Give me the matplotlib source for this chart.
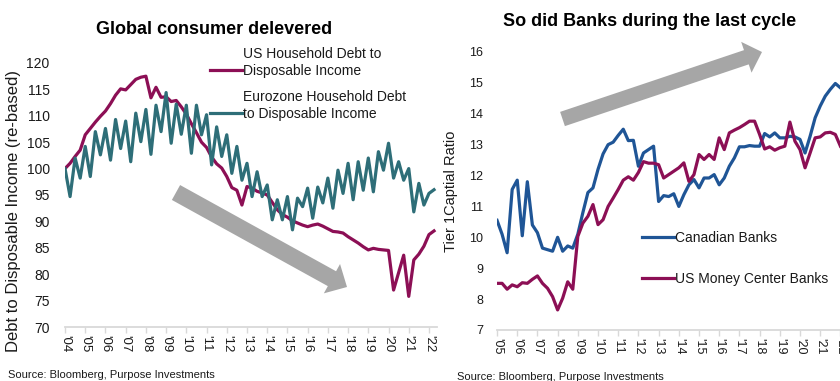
import matplotlib
matplotlib.use('agg')
import matplotlib.pyplot as plt
from matplotlib.patches import FancyArrow
from matplotlib.lines import Line2D

plt.rcParams['font.family'] = ['Liberation Sans', 'DejaVu Sans']

# ---- data: left chart (quarterly, re-based to 100 at 2004Q1) ----
left_start = 2004.0
us_household = [
    100.0, 101.0, 102.3, 103.5, 106.4, 107.6, 108.8, 109.9,
    110.9, 112.3, 113.9, 115.1, 114.9, 115.9, 116.9, 117.3,
    117.5, 113.4, 115.4, 113.5, 113.6, 112.7, 112.9, 111.7,
    110.3, 108.5, 106.8, 105.0, 104.0, 102.2, 100.9, 100.1,
    98.5, 96.4, 95.9, 93.1, 96.6, 96.3, 95.7, 95.4,
    95.0, 93.6, 92.2, 91.3, 90.8, 90.1, 89.7, 89.3,
    89.0, 89.3, 89.5, 89.1, 88.6, 88.1, 88.0, 87.8,
    87.1, 86.5, 85.9, 85.2, 84.6, 84.9, 84.7, 84.6,
    84.5, 77.0, 80.3, 83.6, 75.8, 82.7, 83.8, 85.3,
    87.5, 88.2,
]
eurozone_household = [
    100.0, 94.7, 102.0, 98.2, 104.2, 98.5, 107.0, 102.6,
    107.6, 101.6, 109.3, 103.8, 109.0, 101.3, 110.5, 105.1,
    111.2, 102.7, 112.0, 107.0, 114.4, 104.8, 112.2, 106.5,
    112.0, 102.9, 112.0, 106.4, 110.2, 100.7, 107.9, 102.3,
    106.4, 99.1, 104.2, 97.8, 101.0, 94.7, 99.4, 94.7,
    96.9, 90.3, 94.1, 90.3, 94.7, 88.4, 94.4, 92.8,
    96.3, 90.6, 96.5, 93.5, 98.2, 92.5, 99.7, 95.3,
    101.0, 94.1, 101.3, 95.9, 102.0, 95.6, 103.2, 99.7,
    104.8, 98.2, 101.3, 97.8, 100.0, 91.8, 97.2, 93.1,
    95.3, 96.0,
]
left_years = list(range(2004, 2023))

# ---- data: right chart (Tier 1 capital ratio, quarterly) ----
right_start = 2005.0
canadian_banks = [
    10.55, 10.1, 9.5, 11.55, 11.85, 10.05, 11.8, 10.4,
    10.15, 9.65, 9.6, 9.55, 10.0, 9.55, 9.72, 9.65,
    10.1, 10.8, 11.45, 11.6, 12.2, 12.7, 13.0, 13.08,
    13.3, 13.5, 13.13, 13.14, 12.3, 12.73, 12.84, 12.95,
    11.16, 11.35, 11.32, 11.41, 11.0, 11.38, 11.7, 11.87,
    11.6, 11.92, 11.92, 12.03, 11.7, 11.92, 12.3, 12.57,
    12.93, 12.93, 12.97, 12.95, 12.95, 13.36, 13.25, 13.38,
    13.22, 13.22, 13.27, 13.25, 13.17, 12.73, 13.27, 13.87,
    14.25, 14.57, 14.79, 14.98, 14.84,
]
us_money_center = [
    8.51, 8.51, 8.32, 8.46, 8.40, 8.53, 8.51, 8.64,
    8.75, 8.51, 8.35, 8.08, 7.65, 8.03, 8.56, 8.32,
    10.03, 10.46, 10.68, 11.06, 10.41, 10.57, 11.0, 11.27,
    11.55, 11.85, 11.96, 11.85, 12.1, 12.45, 12.4, 12.4,
    12.35, 11.92, 12.03, 12.14, 12.25, 12.41, 11.81, 12.03,
    12.68, 12.52, 12.68, 12.52, 13.22, 12.84, 13.38, 13.47,
    13.55, 13.65, 13.76, 13.76, 13.33, 12.86, 12.93, 12.82,
    12.9, 12.95, 13.73, 13.11, 12.84, 12.25, 12.73, 13.22,
    13.25, 13.38, 13.40, 13.33, 12.95,
]
right_years = list(range(2005, 2023))

# colours
magenta = '#8C0F55'
teal = '#2E6E78'
blue = '#1F5596'
arrow_grey = '#A6A6A6'
axis_grey = '#D9D9D9'
text_col = '#1A1A1A'


def quarters(start, n):
    return [start + 0.25 * i for i in range(n)]


def style_axis(ax, years, tick_size):
    for side in ['left', 'right', 'top']:
        ax.spines[side].set_visible(False)
    ax.spines['bottom'].set_color(axis_grey)
    ax.spines['bottom'].set_linewidth(1.3)
    ax.set_xticks(years)
    ax.set_xticklabels(["'" + str(y)[2:] for y in years], rotation=270,
                       fontsize=tick_size, color=text_col)
    ax.tick_params(axis='x', direction='out', length=4, width=1,
                   color=axis_grey, pad=2)
    ax.tick_params(axis='y', length=0, colors=text_col)


fig = plt.figure(figsize=(8.4, 3.81), dpi=100)

# left: household debt
ax1 = fig.add_axes([0.0774, 0.1417, 0.4429, 0.693])
ax1.plot(quarters(left_start, len(us_household)), us_household,
         color=magenta, lw=2.3, solid_joinstyle='round')
ax1.plot(quarters(left_start, len(eurozone_household)), eurozone_household,
         color=teal, lw=2.3, solid_joinstyle='round')
ax1.set_xlim(2004, 2022.4)
ax1.set_ylim(70, 120)
ax1.set_yticks(range(70, 121, 5))
style_axis(ax1, left_years, 9.5)
ax1.tick_params(axis='y', labelsize=10, pad=11)
ax1.set_ylabel('Debt to Disposable Income (re-based)', fontsize=12,
               color=text_col)
ax1.yaxis.set_label_coords(-0.118, 0.44)

# right: tier 1 capital
ax2 = fig.add_axes([0.5917, 0.1339, 0.4208, 0.7297])
ax2.plot(quarters(right_start, len(canadian_banks)), canadian_banks,
         color=blue, lw=2.3, solid_joinstyle='round')
ax2.plot(quarters(right_start, len(us_money_center)), us_money_center,
         color=magenta, lw=2.3, solid_joinstyle='round')
ax2.set_xlim(2005, 2022.5)
ax2.set_ylim(7, 16)
ax2.set_yticks(range(7, 17))
style_axis(ax2, right_years, 9)
ax2.tick_params(axis='y', labelsize=9, pad=10)
ax2.set_ylabel('Tier 1Captial Ratio', fontsize=10.5, color=text_col)
ax2.yaxis.set_label_coords(-0.110, 0.5)

# titles and sources (positions in inches from bottom-left)
inch = fig.dpi_scale_trans
fig.text(2.14, 3.47, 'Global consumer delevered', transform=inch,
         ha='center', va='baseline', fontsize=13, fontweight='bold')
fig.text(6.50, 3.545, 'So did Banks during the last cycle', transform=inch,
         ha='center', va='baseline', fontsize=13, fontweight='bold')
fig.text(0.08, 0.06, 'Source: Bloomberg, Purpose Investments', transform=inch,
         ha='left', va='center', fontsize=8, color=text_col)
fig.text(4.57, 0.04, 'Source: Bloomberg, Purpose Investments', transform=inch,
         ha='left', va='center', fontsize=8, color=text_col)

# hand-placed legends
legend_items = [
    (2.10, 3.11, magenta, 'US Household Debt to\nDisposable Income'),
    (2.10, 2.68, teal, 'Eurozone Household Debt\nto Disposable Income'),
    (6.42, 1.44, blue, 'Canadian Banks'),
    (6.42, 1.03, magenta, 'US Money Center Banks'),
]
for x, y, c, label in legend_items:
    fig.add_artist(Line2D([x, x + 0.32], [y, y], transform=inch, color=c, lw=2.3))
    fig.text(x + 0.33, y - 0.05, label, transform=inch, ha='left',
             va='baseline', fontsize=10, color=text_col, linespacing=1.25)

# big grey trend arrows
fig.add_artist(FancyArrow(1.76, 1.885, 1.71, -0.945, width=0.17,
                          head_width=0.335, head_length=0.172,
                          length_includes_head=True, transform=inch,
                          color=arrow_grey, lw=0))
fig.add_artist(FancyArrow(5.625, 2.62, 1.995, 0.67, width=0.15,
                          head_width=0.325, head_length=0.165,
                          length_includes_head=True, transform=inch,
                          color=arrow_grey, lw=0))

fig.savefig('out.png', dpi=100)
plt.close(fig)
